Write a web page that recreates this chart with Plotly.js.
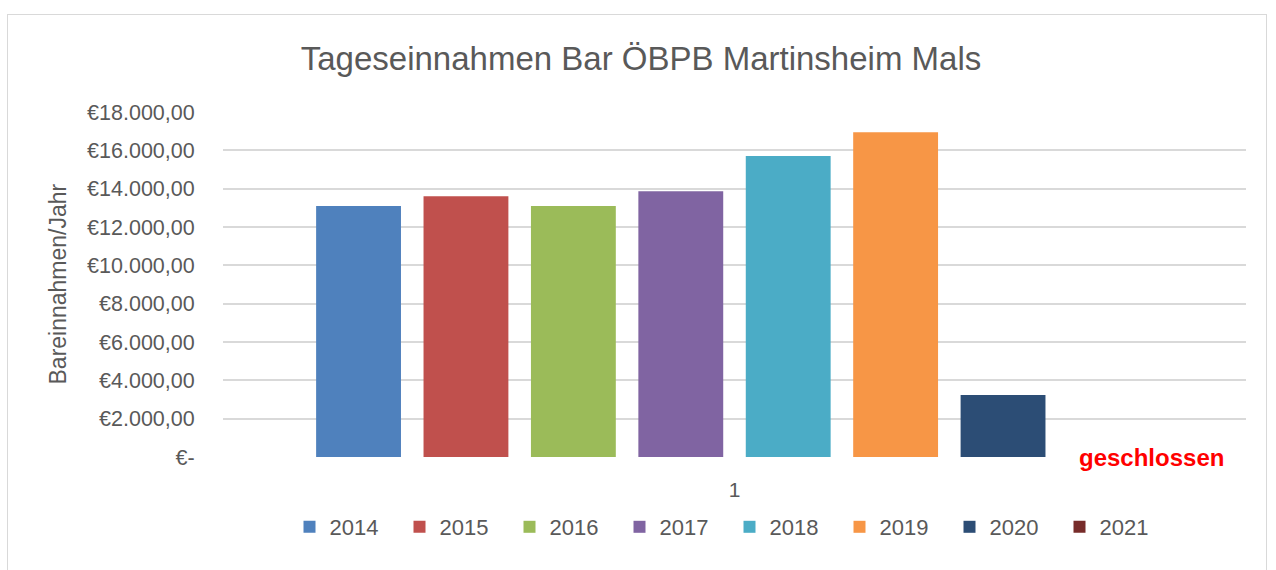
<!DOCTYPE html>
<html>
<head>
<meta charset="utf-8">
<script src="https://cdn.plot.ly/plotly-3.0.1.min.js"></script>
<style>
  html, body { margin: 0; padding: 0; background: #ffffff; }
  #wrap { position: relative; width: 1276px; height: 570px; overflow: hidden; }
  #frame { position: absolute; left: 7px; top: 14px; width: 1260px; height: 600px; border: 1px solid #d9d9d9; box-sizing: border-box; pointer-events: none; }
  #chart { position: absolute; left: 0; top: 0; width: 1276px; height: 570px; }
</style>
</head>
<body>
<div id="wrap">
  <div id="chart"></div>
  <div id="frame"></div>
</div>
<script>
const years = ['2014', '2015', '2016', '2017', '2018', '2019', '2020', '2021'];
const revenues = [13100, 13600, 13100, 13870, 15700, 16950, 3230, 0];
const colors = ['#4f81bd', '#c0504d', '#9bbb59', '#8064a2', '#4bacc6', '#f79646', '#2c4d75', '#772c2a'];
const category = ['1'];
const tickValues = [0, 2000, 4000, 6000, 8000, 10000, 12000, 14000, 16000, 18000];
const tickLabels = ['€-', '€2.000,00', '€4.000,00', '€6.000,00', '€8.000,00', '€10.000,00', '€12.000,00', '€14.000,00', '€16.000,00', '€18.000,00'];
const chartTitle = 'Tageseinnahmen Bar ÖBPB Martinsheim Mals';
const yTitle = 'Bareinnahmen/Jahr';
const closedNote = 'geschlossen';

const font = 'Liberation Sans, Arial, sans-serif';
const grey = '#595959';

const traces = years.map((y, i) => ({
  type: 'bar',
  name: y,
  x: category,
  y: [revenues[i]],
  marker: { color: colors[i] },
  hoverinfo: 'name+y'
}));

const layout = {
  width: 1276,
  height: 570,
  margin: { l: 223, r: 30, t: 112, b: 113 },
  paper_bgcolor: 'rgba(0,0,0,0)',
  plot_bgcolor: 'rgba(0,0,0,0)',
  barmode: 'group',
  bargap: 0.16,
  bargroupgap: 0.21,
  showlegend: true,
  title: {
    text: chartTitle,
    font: { family: font, size: 33, color: grey },
    x: 641 / 1276, xanchor: 'center', xref: 'container',
    y: 1 - 58 / 570, yanchor: 'middle', yref: 'container'
  },
  xaxis: {
    type: 'category',
    range: [-0.5, 0.5],
    showgrid: false,
    zeroline: false,
    showline: false,
    ticks: 'outside',
    ticklen: 14,
    tickcolor: 'rgba(0,0,0,0)',
    tickfont: { family: font, size: 21, color: grey },
    fixedrange: true
  },
  yaxis: {
    range: [0, 18000],
    tickvals: tickValues,
    ticktext: tickLabels,
    showgrid: true,
    gridcolor: '#d9d9d9',
    gridwidth: 1.5,
    zeroline: false,
    showline: false,
    ticks: 'outside',
    ticklen: 23,
    tickcolor: 'rgba(0,0,0,0)',
    tickfont: { family: font, size: 21.5, color: grey },
    fixedrange: true
  },
  legend: {
    orientation: 'h',
    x: 0.5 - 5 / 1023, xanchor: 'center',
    y: (457 - 527) / 345, yanchor: 'middle',
    font: { family: font, size: 22, color: grey },
    entrywidth: 65,
    entrywidthmode: 'pixels',
    itemclick: false,
    itemdoubleclick: false
  },
  annotations: [
    {
      text: yTitle,
      xref: 'paper', yref: 'paper',
      x: (57 - 223) / 1023, y: 0.5,
      xanchor: 'center', yanchor: 'middle',
      textangle: -90,
      showarrow: false,
      font: { family: font, size: 23, color: grey }
    },
    {
      text: '<b>' + closedNote + '</b>',
      xref: 'x', yref: 'y',
      x: 0.408, y: 0,
      xanchor: 'center', yanchor: 'middle',
      showarrow: false,
      font: { family: font, size: 24, color: '#ff0000' }
    }
  ]
};

Plotly.newPlot('chart', traces, layout, { displayModeBar: false, staticPlot: false });
</script>
</body>
</html>
